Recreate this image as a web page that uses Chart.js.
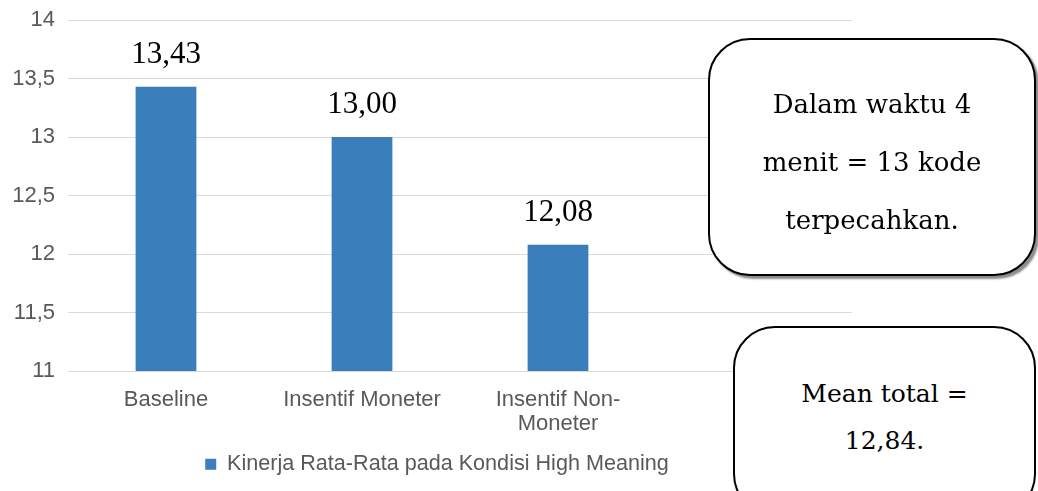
<!DOCTYPE html>
<html>
<head>
<meta charset="utf-8">
<script src="https://cdn.jsdelivr.net/npm/chart.js@4.4.1/dist/chart.umd.min.js"></script>
<style>
    html, body { margin: 0; padding: 0; background: #fff; overflow: hidden; }
    #wrap { position: relative; width: 1038px; height: 491px; }
    .note {
        position: absolute;
        box-sizing: border-box;
        background: #fff;
        border: 2px solid #000;
        border-radius: 42px;
        font-family: "DejaVu Serif", serif;
        color: #000;
        text-align: center;
        display: flex;
        flex-direction: column;
        align-items: center;
    }
    #note1 { left: 708px; top: 38px; width: 328px; height: 238px; box-shadow: 3px 3px 2px #8c8c8c; justify-content: center; padding-top: 9px; font-size: 26px; line-height: 58px; }
    #note2 { left: 733px; top: 326px; width: 303px; height: 190px; padding-top: 42px; font-size: 25px; line-height: 47px; }
</style>
</head>
<body>
<div id="wrap">
    <canvas id="chart" width="1038" height="491"></canvas>
    <div class="note" id="note1"><div>Dalam waktu 4</div><div>menit = 13 kode</div><div>terpecahkan.</div></div>
    <div class="note" id="note2"><div>Mean total =</div><div>12,84.</div></div>
</div>
<script>
// data
const categories = ['Baseline', 'Insentif Moneter', ['Insentif Non-', 'Moneter'], ''];
const kinerja = [13.43, 13.00, 12.08, null];
const valueLabels = ['13,43', '13,00', '12,08', ''];
const seriesName = 'Kinerja Rata-Rata pada Kondisi High Meaning';

const yMin = 11, yMax = 14, yStep = 0.5;
const barColor = '#3a7fbb';
const textGrey = '#595959';
const sans = '"Liberation Sans", Arial, sans-serif';

// draws the value above each bar (serif, like the original)
const valueLabelPlugin = {
    id: 'valueLabels',
    afterDatasetsDraw(chart) {
        const ctx = chart.ctx;
        const meta = chart.getDatasetMeta(0);
        ctx.save();
        ctx.font = '31px "Liberation Serif", serif';
        ctx.fillStyle = '#000';
        ctx.textAlign = 'center';
        ctx.textBaseline = 'alphabetic';
        meta.data.forEach((bar, i) => {
            if (kinerja[i] == null) return;
            ctx.fillText(valueLabels[i], bar.x, bar.y - 24);
        });
        ctx.restore();
    }
};

// the original legend sits a bit right of the plot centre
const legendShift = {
    id: 'legendShift',
    afterLayout(chart) {
        chart.legend.left += 11;
        chart.legend.right += 11;
    }
};

new Chart(document.getElementById('chart'), {
    type: 'bar',
    data: {
        labels: categories,
        datasets: [{
            label: seriesName,
            data: kinerja,
            backgroundColor: barColor,
            borderWidth: 0,
            categoryPercentage: 1,
            barPercentage: 0.31
        }]
    },
    options: {
        responsive: false,
        animation: false,
        layout: { padding: { left: 0, right: 186, top: 20, bottom: 6 } },
        plugins: {
            legend: {
                position: 'bottom',
                labels: {
                    boxWidth: 11,
                    boxHeight: 11,
                    color: textGrey,
                    font: { family: sans, size: 21.6 },
                    padding: 8
                }
            },
            tooltip: { enabled: false }
        },
        scales: {
            x: {
                grid: { display: false },
                border: { display: true, color: '#d9d9d9', width: 1 },
                ticks: {
                    color: textGrey,
                    font: { family: sans, size: 22, lineHeight: 1.1 },
                    padding: 9,
                    maxRotation: 0
                }
            },
            y: {
                min: yMin,
                max: yMax,
                grid: { color: '#d9d9d9', drawTicks: false },
                border: { display: false },
                afterFit(scale) {
                    scale.width = 68;
                    scale.paddingTop = 0;
                },
                ticks: {
                    stepSize: yStep,
                    color: textGrey,
                    padding: 13,
                    font: { family: sans, size: 22 },
                    callback: (v) => String(v).replace('.', ',')
                }
            }
        }
    },
    plugins: [valueLabelPlugin, legendShift]
});
</script>
</body>
</html>
